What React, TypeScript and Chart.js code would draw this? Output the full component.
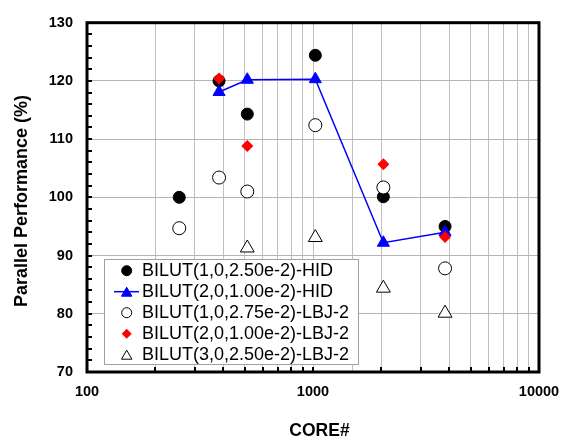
import { useEffect, useRef } from 'react';
import { Chart, registerables } from 'chart.js';

Chart.register(...registerables);

// ---- data ----
const cores = [256, 384, 512, 1024, 2048, 3840];
const hid1 = [100.0, 120.0, 114.3, 124.4, 100.1, 95.0];
const hid2 = [null, 118.1, 120.2, 120.3, 92.2, 94.0];
const lbj1 = [94.7, 103.4, 101.0, 112.4, 101.7, 87.8];
const lbj2 = [null, 120.4, 108.8, null, 105.7, 93.2];
const lbj3 = [null, null, 91.3, 93.1, 84.4, 80.1];
const seriesLabels = [
  'BILUT(1,0,2.50e-2)-HID',
  'BILUT(2,0,1.00e-2)-HID',
  'BILUT(1,0,2.75e-2)-LBJ-2',
  'BILUT(2,0,1.00e-2)-LBJ-2',
  'BILUT(3,0,2.50e-2)-LBJ-2',
];
const xTickLabels = [100, 1000, 10000];
const xMin = 100;
const xMax = 10000;
const yMin = 70;
const yMax = 130;
const yStep = 10;
const yMinorStep = 2;
const xTitle = 'CORE#';
const yTitle = 'Parallel Performance (%)';

const FONT = '"Liberation Sans", Arial, sans-serif';

function pts(arr: (number | null)[]) {
  return cores
    .map((x, i) => ({ x, y: arr[i] }))
    .filter((p) => p.y !== null) as { x: number; y: number }[];
}

function drawTri(ctx: CanvasRenderingContext2D, x: number, y: number, w: number, h: number, fill: string, stroke: string) {
  ctx.beginPath();
  ctx.moveTo(x, y - h / 2);
  ctx.lineTo(x + w / 2, y + h / 2);
  ctx.lineTo(x - w / 2, y + h / 2);
  ctx.closePath();
  ctx.fillStyle = fill;
  ctx.fill();
  ctx.lineWidth = 1;
  ctx.strokeStyle = stroke;
  ctx.stroke();
}

function drawCircle(ctx: CanvasRenderingContext2D, x: number, y: number, r: number, fill: string, stroke: string) {
  ctx.beginPath();
  ctx.arc(x, y, r, 0, Math.PI * 2);
  ctx.fillStyle = fill;
  ctx.fill();
  ctx.lineWidth = 1;
  ctx.strokeStyle = stroke;
  ctx.stroke();
}

function drawDiamond(ctx: CanvasRenderingContext2D, x: number, y: number, r: number, fill: string) {
  ctx.beginPath();
  ctx.moveTo(x, y - r);
  ctx.lineTo(x + r, y);
  ctx.lineTo(x, y + r);
  ctx.lineTo(x - r, y);
  ctx.closePath();
  ctx.fillStyle = fill;
  ctx.fill();
}

const decorPlugin = {
  id: 'decor',
  afterDraw(chart: any) {
    const ctx: CanvasRenderingContext2D = chart.ctx;
    const { left, right, top, bottom } = chart.chartArea;
    const xs = chart.scales.x;
    const ys = chart.scales.y;
    ctx.save();

    // minor ticks on y axis
    ctx.strokeStyle = '#000';
    ctx.lineWidth = 2;
    for (let v = yMin + yMinorStep; v < yMax; v += yMinorStep) {
      const py = Math.round(ys.getPixelForValue(v));
      ctx.beginPath();
      ctx.moveTo(left, py);
      ctx.lineTo(left + 5, py);
      ctx.stroke();
    }
    // minor ticks on x axis
    for (let d = xMin; d < xMax; d *= 10) {
      for (let k = 1; k <= 9; k++) {
        const v = d * k;
        if (v <= xMin || v >= xMax) continue;
        const px = Math.round(xs.getPixelForValue(v));
        ctx.beginPath();
        ctx.moveTo(px, bottom);
        ctx.lineTo(px, bottom - 5);
        ctx.stroke();
      }
    }

    // frame
    ctx.lineWidth = 3;
    ctx.strokeStyle = '#000';
    ctx.strokeRect(left, top, right - left, bottom - top);

    // legend
    const lx = 104.5, ly = 259.5, lw = 254, lh = 105;
    ctx.fillStyle = '#fff';
    ctx.fillRect(lx, ly, lw, lh);
    ctx.lineWidth = 1;
    ctx.strokeStyle = '#a0a0a0';
    ctx.strokeRect(lx, ly, lw, lh);
    const mx = 126.7;
    const rowY = (i: number) => 270.7 + i * 21;
    // row 0
    drawCircle(ctx, mx, rowY(0), 5, '#000', '#000');
    // row 1
    ctx.beginPath();
    ctx.moveTo(114, rowY(1));
    ctx.lineTo(139, rowY(1));
    ctx.strokeStyle = '#0000ff';
    ctx.lineWidth = 1.5;
    ctx.stroke();
    drawTri(ctx, mx, rowY(1), 10.5, 9, '#0000ff', '#0000ff');
    // row 2
    drawCircle(ctx, mx, rowY(2), 5, '#fff', '#000');
    // row 3
    drawDiamond(ctx, mx, rowY(3), 5, '#ff0000');
    // row 4
    drawTri(ctx, mx, rowY(4), 10.5, 9, '#fff', '#000');

    ctx.fillStyle = '#000';
    ctx.font = `18px ${FONT}`;
    ctx.textAlign = 'left';
    ctx.textBaseline = 'middle';
    seriesLabels.forEach((t, i) => ctx.fillText(t, 142, rowY(i) + 0.5));

    // axis titles
    ctx.font = `bold 17.5px ${FONT}`;
    ctx.textAlign = 'center';
    ctx.textBaseline = 'middle';
    ctx.fillText(xTitle, 319.5, 431.5);
    ctx.save();
    ctx.translate(22, 201);
    ctx.rotate(-Math.PI / 2);
    ctx.font = `bold 18px ${FONT}`;
    ctx.fillText(yTitle, 0, 0);
    ctx.restore();

    ctx.restore();
  },
};

export default function App() {
  const ref = useRef<HTMLCanvasElement | null>(null);
  useEffect(() => {
    if (!ref.current) return;
    const chart = new Chart(ref.current, {
      type: 'scatter',
      data: {
        datasets: [
          {
            label: seriesLabels[0],
            data: pts(hid1),
            pointStyle: 'circle',
            pointRadius: 6,
            pointBackgroundColor: '#000',
            pointBorderColor: '#000',
            pointBorderWidth: 1,
            showLine: false,
            order: 5,
          },
          {
            label: seriesLabels[1],
            data: pts(hid2),
            pointStyle: 'triangle',
            pointRadius: 7,
            pointBackgroundColor: '#0000ff',
            pointBorderColor: '#0000ff',
            pointBorderWidth: 1,
            borderColor: '#0000ff',
            borderWidth: 1.5,
            showLine: true,
            order: 4,
          },
          {
            label: seriesLabels[2],
            data: pts(lbj1),
            pointStyle: 'circle',
            pointRadius: 6.5,
            pointBackgroundColor: '#fff',
            pointBorderColor: '#000',
            pointBorderWidth: 1,
            showLine: false,
            order: 3,
          },
          {
            label: seriesLabels[3],
            data: pts(lbj2),
            pointStyle: 'rectRot',
            pointRadius: 6,
            pointBackgroundColor: '#ff0000',
            pointBorderColor: '#ff0000',
            pointBorderWidth: 0,
            showLine: false,
            order: 2,
          },
          {
            label: seriesLabels[4],
            data: pts(lbj3),
            pointStyle: 'triangle',
            pointRadius: 8,
            pointBackgroundColor: '#fff',
            pointBorderColor: '#000',
            pointBorderWidth: 1,
            showLine: false,
            order: 1,
          },
        ],
      },
      options: {
        animation: false,
        responsive: false,
        devicePixelRatio: 1,
        layout: { padding: { left: 0, right: 32, top: 15, bottom: 0 } },
        plugins: { legend: { display: false }, tooltip: { enabled: false } },
        scales: {
          x: {
            type: 'logarithmic',
            position: 'bottom',
            min: xMin,
            max: xMax,
            afterFit: (s: any) => {
              s.height = 69;
            },
            grid: { color: '#c0c0c0', lineWidth: 1, drawTicks: false },
            border: { display: false },
            ticks: {
              autoSkip: false,
              maxRotation: 0,
              padding: 11,
              color: '#000',
              font: { family: FONT, size: 14.5, weight: 'bold' },
              callback: (v: any) => (xTickLabels.includes(Number(v)) ? String(v) : ''),
            },
          },
          y: {
            type: 'linear',
            min: yMin,
            max: yMax,
            afterFit: (s: any) => {
              s.width = 87;
            },
            grid: { color: '#b4b4b4', lineWidth: 1, drawTicks: false },
            border: { display: false },
            ticks: {
              stepSize: yStep,
              padding: 14,
              color: '#000',
              font: { family: FONT, size: 14.5, weight: 'bold' },
            },
          },
        },
      },
      plugins: [decorPlugin],
    } as any);
    return () => chart.destroy();
  }, []);
  return (
    <div style={{ position: 'fixed', left: 0, top: 0, width: 571, height: 441, background: '#fff' }}>
      <canvas ref={ref} width={571} height={441} style={{ display: 'block' }} />
    </div>
  );
}
